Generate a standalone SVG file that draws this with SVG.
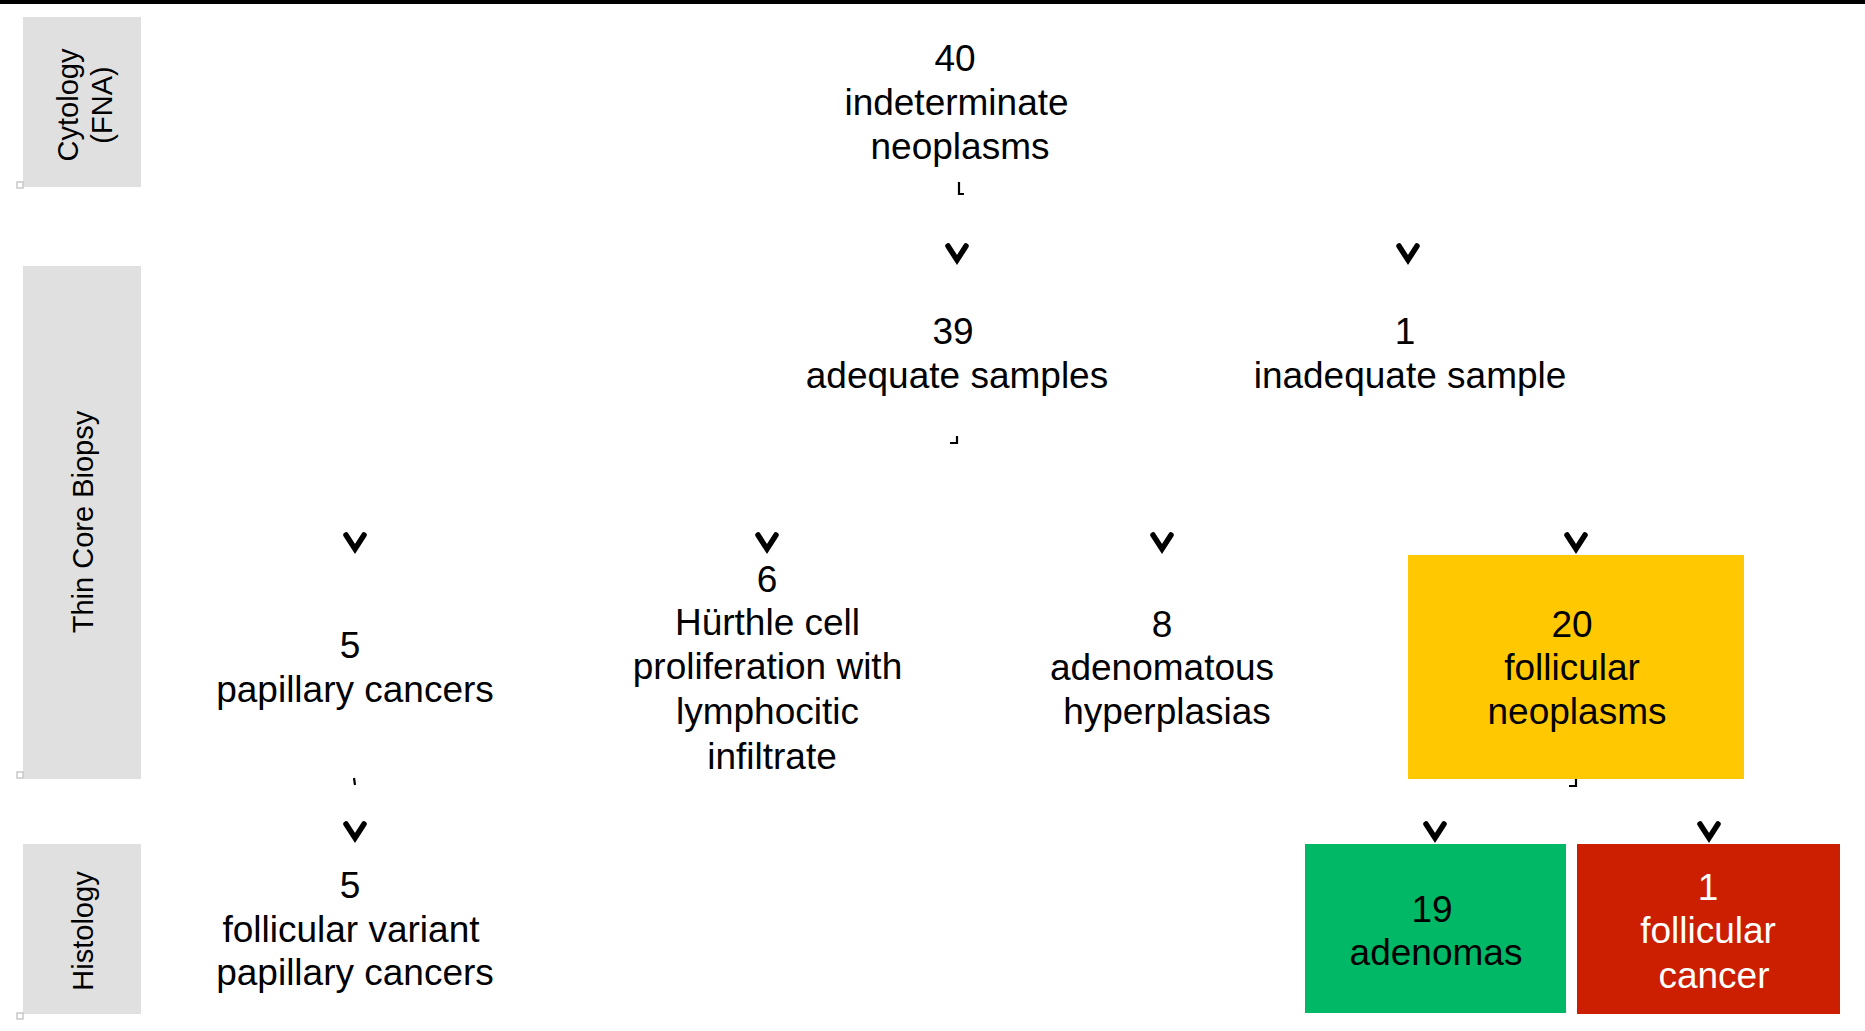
<svg xmlns="http://www.w3.org/2000/svg" width="1865" height="1031" viewBox="0 0 1865 1031">
<defs>
<style>
.t{font-family:"Liberation Sans",Arial,sans-serif;font-size:37px;fill:#000;text-anchor:middle}
.w{fill:#fff}
.lab{font-family:"Liberation Sans",Arial,sans-serif;font-size:29px;fill:#000;text-anchor:middle}
.band{fill:#e0e0e0}
.sq{fill:#fff;stroke:#c8c8c8;stroke-width:1.5}
.chev{fill:none;stroke:#000;stroke-width:5.5;stroke-linecap:round;stroke-linejoin:miter}
.stub{fill:none;stroke:#000;stroke-width:2.2}
</style>
<path id="v" class="chev" d="M -9 -19 L 0 -5 L 9 -19"/>
</defs>
<rect x="0" y="0" width="1865" height="1031" fill="#fff"/>
<rect x="0" y="0" width="1865" height="4" fill="#000"/>

<g id="lane-cytology">
<rect class="band" x="23" y="17" width="118" height="170"/>
<rect class="sq" x="17" y="182" width="6" height="6"/>
<text class="lab" transform="translate(78,105) rotate(-90)"><tspan x="0" y="0">Cytology</tspan><tspan x="0" y="34">(FNA)</tspan></text>
</g>
<g id="lane-biopsy">
<rect class="band" x="23" y="266" width="118" height="513"/>
<rect class="sq" x="17" y="772" width="6" height="6"/>
<text class="lab" transform="translate(93,522) rotate(-90)">Thin Core Biopsy</text>
</g>
<g id="lane-histology">
<rect class="band" x="23" y="844" width="118" height="170"/>
<rect class="sq" x="17" y="1013" width="6" height="6"/>
<text class="lab" transform="translate(93,931) rotate(-90)">Histology</text>
</g>

<g id="connectors">
<path class="stub" d="M 959 182 V 194 H 964"/>
<path class="stub" d="M 957 436 V 443 H 950"/>
<path class="stub" d="M 354 778 L 355 785" stroke-width="1.5"/>
<path class="stub" d="M 1576 779 V 786 H 1569"/>
<use href="#v" x="957" y="265"/>
<use href="#v" x="1408" y="265"/>
<use href="#v" x="355" y="554"/>
<use href="#v" x="767" y="554"/>
<use href="#v" x="1162" y="554"/>
<use href="#v" x="1576" y="554"/>
<use href="#v" x="355" y="843"/>
<use href="#v" x="1435" y="843"/>
<use href="#v" x="1709" y="843"/>
</g>

<g id="n40">
<text class="t"><tspan x="955" y="71">40</tspan><tspan x="956.5" y="115">indeterminate</tspan><tspan x="960" y="159">neoplasms</tspan></text>
</g>
<g id="n39">
<text class="t"><tspan x="953" y="344">39</tspan><tspan x="957" y="388">adequate samples</tspan></text>
</g>
<g id="n1inadequate">
<text class="t"><tspan x="1405" y="344">1</tspan><tspan x="1410" y="388">inadequate sample</tspan></text>
</g>
<g id="n5papillary">
<text class="t"><tspan x="350" y="658">5</tspan><tspan x="355" y="702">papillary cancers</tspan></text>
</g>
<g id="n6hurthle">
<text class="t"><tspan x="767" y="592">6</tspan><tspan x="767.5" y="635">Hürthle cell</tspan><tspan x="767.5" y="679">proliferation with</tspan><tspan x="767.5" y="724">lymphocitic</tspan><tspan x="772" y="769">infiltrate</tspan></text>
</g>
<g id="n8adenomatous">
<text class="t"><tspan x="1162" y="637">8</tspan><tspan x="1162" y="680">adenomatous</tspan><tspan x="1167" y="724">hyperplasias</tspan></text>
</g>
<g id="n20follicular">
<rect x="1408" y="555" width="336" height="224" fill="#ffc800"/>
<text class="t"><tspan x="1572" y="637">20</tspan><tspan x="1572" y="680">follicular</tspan><tspan x="1577" y="724">neoplasms</tspan></text>
</g>
<g id="n5fvpc">
<text class="t"><tspan x="350" y="898">5</tspan><tspan x="351" y="942">follicular variant</tspan><tspan x="355" y="985">papillary cancers</tspan></text>
</g>
<g id="n19adenomas">
<rect x="1305" y="844" width="261" height="169" fill="#00b865"/>
<text class="t"><tspan x="1432" y="922">19</tspan><tspan x="1436" y="965">adenomas</tspan></text>
</g>
<g id="n1cancer">
<rect x="1577" y="844" width="263" height="170" fill="#cc1e00"/>
<text class="t w"><tspan x="1708" y="900">1</tspan><tspan x="1708" y="943">follicular</tspan><tspan x="1714" y="988">cancer</tspan></text>
</g>
</svg>
